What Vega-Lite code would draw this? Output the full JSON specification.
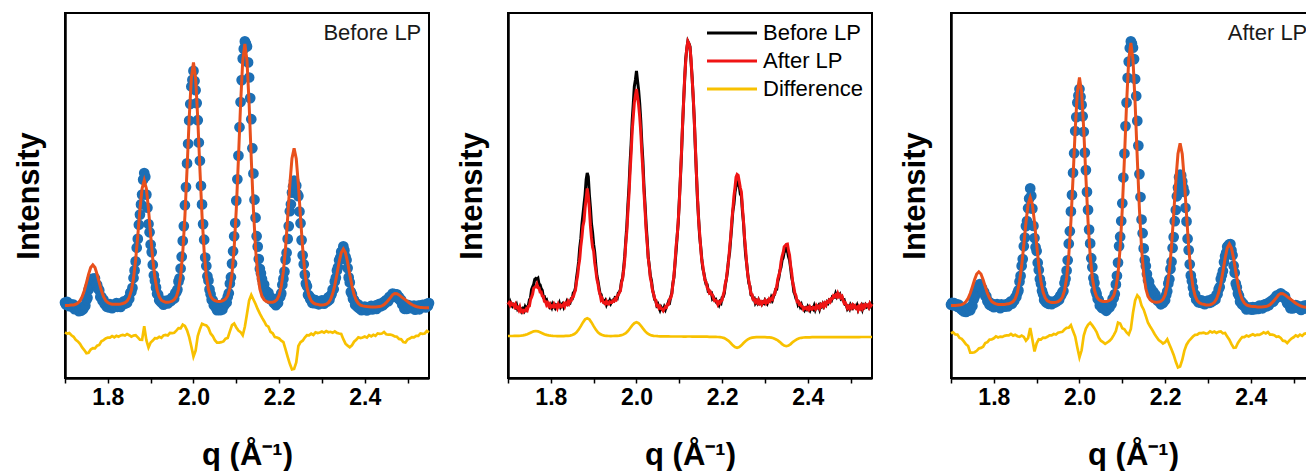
{
  "$schema": "https://vega.github.io/schema/vega-lite/v6.json",
  "background": "white",
  "padding": {"left": 12, "top": 12, "right": 0, "bottom": 0},
  "spacing": 19,
  "resolve": {"legend": {"color": "independent"}},
  "config": {
    "font": "Liberation Sans",
    "view": {"stroke": "#000000", "strokeWidth": 2},
    "axis": {"grid": false, "domainColor": "#000000", "domainWidth": 2.5, "tickColor": "#000000", "labelColor": "#000000", "titleColor": "#000000", "labelFont": "Liberation Sans", "titleFont": "Liberation Sans", "labelFontWeight": "bold", "titleFontWeight": "bold", "labelFontSize": 23, "titleFontSize": 31},
    "axisX": {"tickSize": 5, "tickWidth": 1.5, "labelPadding": 3, "titlePadding": 31, "labelFlush": false},
    "axisY": {"ticks": false, "labels": false, "titlePadding": 20}
  },
  "datasets": {
    "notes": [{"q": 2.532, "v": 338, "before": "Before LP", "after": "After LP"}],
    "obs": [
{"q":1.7,"b":75.4,"a":73.4},{"q":1.7025,"b":73.3,"a":75.1},{"q":1.705,"b":76.2,"a":72.7},{"q":1.7075,"b":73.3,"a":74.8},
{"q":1.71,"b":71.8,"a":73.3},{"q":1.7125,"b":73.9,"a":73.6},{"q":1.715,"b":73.2,"a":71.3},{"q":1.7175,"b":71.1,"a":73.5},
{"q":1.72,"b":73.3,"a":70.3},{"q":1.7225,"b":68.9,"a":70.6},{"q":1.725,"b":70.2,"a":68.2},{"q":1.7275,"b":69.0,"a":71.0},
{"q":1.73,"b":69.3,"a":66.6},{"q":1.7325,"b":66.8,"a":67.5},{"q":1.735,"b":69.1,"a":66.0},{"q":1.7375,"b":67.3,"a":67.6},
{"q":1.74,"b":71.0,"a":67.2},{"q":1.7425,"b":68.8,"a":69.0},{"q":1.745,"b":71.4,"a":67.8},{"q":1.7475,"b":72.4,"a":71.6},
{"q":1.75,"b":78.0,"a":72.0},{"q":1.7525,"b":80.2,"a":78.3},{"q":1.755,"b":88.3,"a":80.9},{"q":1.7575,"b":91.1,"a":83.9},
{"q":1.76,"b":93.6,"a":89.8},{"q":1.7625,"b":98.6,"a":90.8},{"q":1.765,"b":99.5,"a":91.2},{"q":1.7675,"b":98.6,"a":93.9},
{"q":1.77,"b":99.7,"a":90.3},{"q":1.7725,"b":94.0,"a":90.0},{"q":1.775,"b":93.2,"a":85.9},{"q":1.7775,"b":89.4,"a":85.9},
{"q":1.78,"b":87.7,"a":82.1},{"q":1.7825,"b":81.1,"a":81.6},{"q":1.785,"b":81.3,"a":76.7},{"q":1.7875,"b":77.4,"a":76.4},
{"q":1.79,"b":78.2,"a":73.2},{"q":1.7925,"b":74.0,"a":74.9},{"q":1.795,"b":73.5,"a":72.1},{"q":1.7975,"b":71.3,"a":73.8},
{"q":1.8,"b":73.3,"a":70.8},{"q":1.8025,"b":70.5,"a":72.0},{"q":1.805,"b":73.9,"a":71.3},{"q":1.8075,"b":71.7,"a":73.8},
{"q":1.81,"b":69.9,"a":71.4},{"q":1.8125,"b":72.9,"a":72.3},{"q":1.815,"b":72.0,"a":69.9},{"q":1.8175,"b":71.8,"a":73.7},
{"q":1.82,"b":74.9,"a":71.6},{"q":1.8225,"b":71.2,"a":72.8},{"q":1.825,"b":73.3,"a":71.3},{"q":1.8275,"b":74.4,"a":72.2},
{"q":1.83,"b":71.1,"a":74.0},{"q":1.8325,"b":74.2,"a":71.6},{"q":1.835,"b":73.9,"a":74.6},{"q":1.8375,"b":76.7,"a":73.7},
{"q":1.84,"b":74.3,"a":76.6},{"q":1.8425,"b":76.2,"a":74.4},{"q":1.845,"b":75.3,"a":77.1},{"q":1.8475,"b":79.3,"a":77.3},
{"q":1.85,"b":79.3,"a":80.8},{"q":1.8525,"b":85.2,"a":81.1},{"q":1.855,"b":86.2,"a":85.0},{"q":1.8575,"b":90.1,"a":87.6},
{"q":1.86,"b":100.0,"a":96.4},{"q":1.8625,"b":107.6,"a":102.1},{"q":1.865,"b":116.6,"a":112.1},{"q":1.8675,"b":130.3,"a":118.9},
{"q":1.87,"b":139.1,"a":131.7},{"q":1.8725,"b":153.3,"a":140.4},{"q":1.875,"b":163.4,"a":151.9},{"q":1.8775,"b":173.6,"a":156.9},
{"q":1.88,"b":183.4,"a":169.8},{"q":1.8825,"b":198.4,"a":179.5},{"q":1.885,"b":205.0,"a":189.6},{"q":1.8875,"b":201.3,"a":182.3},
{"q":1.89,"b":183.4,"a":169.4},{"q":1.8925,"b":170.3,"a":152.1},{"q":1.895,"b":154.0,"a":140.0},{"q":1.8975,"b":145.7,"a":130.7},
{"q":1.9,"b":133.5,"a":127.0},{"q":1.9025,"b":125.9,"a":115.3},{"q":1.905,"b":113.3,"a":108.0},{"q":1.9075,"b":102.7,"a":98.9},
{"q":1.91,"b":97.3,"a":94.4},{"q":1.9125,"b":90.6,"a":87.3},{"q":1.915,"b":84.2,"a":83.7},{"q":1.9175,"b":83.4,"a":78.1},
{"q":1.92,"b":77.8,"a":79.4},{"q":1.9225,"b":77.8,"a":75.6},{"q":1.925,"b":75.6,"a":75.5},{"q":1.9275,"b":77.4,"a":74.2},
{"q":1.93,"b":73.4,"a":76.6},{"q":1.9325,"b":76.0,"a":74.4},{"q":1.935,"b":75.2,"a":73.9},{"q":1.9375,"b":77.5,"a":76.2},
{"q":1.94,"b":74.6,"a":75.6},{"q":1.9425,"b":76.9,"a":75.5},{"q":1.945,"b":77.9,"a":77.2},{"q":1.9475,"b":77.1,"a":76.9},
{"q":1.95,"b":80.4,"a":79.0},{"q":1.9525,"b":80.1,"a":78.2},{"q":1.955,"b":79.5,"a":82.1},{"q":1.9575,"b":84.9,"a":82.9},
{"q":1.96,"b":85.7,"a":85.6},{"q":1.9625,"b":88.5,"a":87.0},{"q":1.965,"b":96.6,"a":95.0},{"q":1.9675,"b":99.7,"a":99.2},
{"q":1.97,"b":109.5,"a":107.5},{"q":1.9725,"b":121.3,"a":117.7},{"q":1.975,"b":137.1,"a":134.3},{"q":1.9775,"b":151.9,"a":146.8},
{"q":1.98,"b":172.8,"a":166.6},{"q":1.9825,"b":190.9,"a":183.1},{"q":1.985,"b":214.6,"a":205.2},{"q":1.9875,"b":234.2,"a":224.8},
{"q":1.99,"b":257.5,"a":247.0},{"q":1.9925,"b":274.0,"a":260.9},{"q":1.995,"b":291.5,"a":275.4},{"q":1.9975,"b":298.1,"a":282.4},
{"q":2.0,"b":307.1,"a":289.0},{"q":2.0025,"b":297.0,"a":281.3},{"q":2.005,"b":287.8,"a":273.1},{"q":2.0075,"b":274.9,"a":261.7},
{"q":2.01,"b":257.8,"a":246.2},{"q":2.0125,"b":235.5,"a":225.4},{"q":2.015,"b":217.2,"a":207.9},{"q":2.0175,"b":192.2,"a":186.1},
{"q":2.02,"b":173.6,"a":168.1},{"q":2.0225,"b":153.9,"a":148.4},{"q":2.025,"b":138.3,"a":134.6},{"q":2.0275,"b":120.5,"a":119.8},
{"q":2.03,"b":112.0,"a":110.9},{"q":2.0325,"b":101.8,"a":100.0},{"q":2.035,"b":97.5,"a":95.1},{"q":2.0375,"b":88.6,"a":87.3},
{"q":2.04,"b":83.8,"a":84.1},{"q":2.0425,"b":78.4,"a":79.2},{"q":2.045,"b":77.6,"a":77.9},{"q":2.0475,"b":72.7,"a":72.5},
{"q":2.05,"b":74.0,"a":72.8},{"q":2.0525,"b":70.6,"a":70.0},{"q":2.055,"b":67.8,"a":71.4},{"q":2.0575,"b":70.8,"a":69.3},
{"q":2.06,"b":68.9,"a":69.1},{"q":2.0625,"b":67.8,"a":67.2},{"q":2.065,"b":71.0,"a":69.1},{"q":2.0675,"b":68.6,"a":71.2},
{"q":2.07,"b":72.0,"a":70.6},{"q":2.0725,"b":73.0,"a":73.8},{"q":2.075,"b":76.4,"a":73.8},{"q":2.0775,"b":75.5,"a":79.2},
{"q":2.08,"b":81.2,"a":80.0},{"q":2.0825,"b":84.8,"a":83.9},{"q":2.085,"b":94.5,"a":93.6},{"q":2.0875,"b":100.8,"a":102.2},
{"q":2.09,"b":114.4,"a":115.4},{"q":2.0925,"b":126.8,"a":131.9},{"q":2.095,"b":141.7,"a":141.3},{"q":2.0975,"b":155.0,"a":157.0},
{"q":2.1,"b":177.4,"a":174.7},{"q":2.1025,"b":198.7,"a":200.5},{"q":2.105,"b":222.4,"a":224.5},{"q":2.1075,"b":250.8,"a":251.9},
{"q":2.11,"b":276.0,"a":275.4},{"q":2.1125,"b":297.9,"a":300.1},{"q":2.115,"b":319.4,"a":316.4},{"q":2.1175,"b":329.1,"a":330.0},
{"q":2.12,"b":336.6,"a":336.6},{"q":2.1225,"b":334.4,"a":334.4},{"q":2.125,"b":331.5,"a":330.3},{"q":2.1275,"b":315.6,"a":318.9},
{"q":2.13,"b":300.5,"a":299.0},{"q":2.1325,"b":279.9,"a":282.0},{"q":2.135,"b":258.8,"a":257.1},{"q":2.1375,"b":229.7,"a":232.4},
{"q":2.14,"b":204.5,"a":203.9},{"q":2.1425,"b":178.3,"a":181.0},{"q":2.145,"b":160.3,"a":158.5},{"q":2.1475,"b":141.8,"a":144.8},
{"q":2.15,"b":131.4,"a":129.6},{"q":2.1525,"b":119.0,"a":117.9},{"q":2.155,"b":109.2,"a":112.0},{"q":2.1575,"b":104.8,"a":104.0},
{"q":2.16,"b":98.9,"a":97.7},{"q":2.1625,"b":93.9,"a":96.2},{"q":2.165,"b":93.4,"a":90.6},{"q":2.1675,"b":86.8,"a":88.9},
{"q":2.17,"b":87.0,"a":85.2},{"q":2.1725,"b":84.9,"a":86.2},{"q":2.175,"b":85.2,"a":83.6},{"q":2.1775,"b":79.4,"a":83.2},
{"q":2.18,"b":80.6,"a":79.4},{"q":2.1825,"b":78.1,"a":77.2},{"q":2.185,"b":78.6,"a":77.7},{"q":2.1875,"b":75.1,"a":76.5},
{"q":2.19,"b":74.7,"a":73.7},{"q":2.1925,"b":72.8,"a":76.0},{"q":2.195,"b":76.2,"a":75.0},{"q":2.1975,"b":75.0,"a":77.2},
{"q":2.2,"b":80.4,"a":77.7},{"q":2.2025,"b":81.2,"a":83.0},{"q":2.205,"b":84.6,"a":86.8},{"q":2.2075,"b":93.3,"a":94.6},
{"q":2.21,"b":99.1,"a":98.8},{"q":2.2125,"b":106.4,"a":109.1},{"q":2.215,"b":118.4,"a":116.3},{"q":2.2175,"b":125.3,"a":130.0},
{"q":2.22,"b":139.1,"a":140.9},{"q":2.2225,"b":151.9,"a":156.8},{"q":2.225,"b":166.8,"a":168.0},{"q":2.2275,"b":173.7,"a":181.7},
{"q":2.23,"b":185.4,"a":190.4},{"q":2.2325,"b":191.4,"a":200.8},{"q":2.235,"b":197.5,"a":203.5},{"q":2.2375,"b":192.9,"a":202.6},
{"q":2.24,"b":192.5,"a":196.6},{"q":2.2425,"b":183.9,"a":190.2},{"q":2.245,"b":181.9,"a":186.0},{"q":2.2475,"b":166.5,"a":170.2},
{"q":2.25,"b":154.8,"a":156.6},{"q":2.2525,"b":137.9,"a":139.3},{"q":2.255,"b":122.7,"a":127.9},{"q":2.2575,"b":113.8,"a":113.7},
{"q":2.26,"b":103.4,"a":102.6},{"q":2.2625,"b":94.5,"a":97.0},{"q":2.265,"b":91.8,"a":90.4},{"q":2.2675,"b":83.1,"a":84.0},
{"q":2.27,"b":82.3,"a":83.4},{"q":2.2725,"b":78.9,"a":78.6},{"q":2.275,"b":79.6,"a":78.9},{"q":2.2775,"b":75.0,"a":75.8},
{"q":2.28,"b":77.0,"a":77.2},{"q":2.2825,"b":74.9,"a":75.3},{"q":2.285,"b":77.8,"a":77.7},{"q":2.2875,"b":74.7,"a":74.8},
{"q":2.29,"b":75.7,"a":76.1},{"q":2.2925,"b":73.7,"a":73.8},{"q":2.295,"b":75.8,"a":76.0},{"q":2.2975,"b":74.7,"a":75.6},
{"q":2.3,"b":77.6,"a":77.5},{"q":2.3025,"b":75.7,"a":75.0},{"q":2.305,"b":74.3,"a":76.9},{"q":2.3075,"b":77.6,"a":75.9},
{"q":2.31,"b":77.1,"a":78.9},{"q":2.3125,"b":76.5,"a":77.4},{"q":2.315,"b":80.6,"a":79.4},{"q":2.3175,"b":78.2,"a":78.6},
{"q":2.32,"b":82.0,"a":83.2},{"q":2.3225,"b":83.7,"a":83.8},{"q":2.325,"b":88.5,"a":88.8},{"q":2.3275,"b":88.8,"a":91.0},
{"q":2.33,"b":96.5,"a":98.9},{"q":2.3325,"b":100.3,"a":102.8},{"q":2.335,"b":107.5,"a":106.9},{"q":2.3375,"b":110.7,"a":115.9},
{"q":2.34,"b":117.8,"a":121.7},{"q":2.3425,"b":120.3,"a":125.3},{"q":2.345,"b":126.1,"a":131.3},{"q":2.3475,"b":126.8,"a":132.3},
{"q":2.35,"b":131.6,"a":133.6},{"q":2.3525,"b":127.6,"a":133.9},{"q":2.355,"b":121.3,"a":127.6},{"q":2.3575,"b":118.0,"a":122.8},
{"q":2.36,"b":109.9,"a":112.3},{"q":2.3625,"b":100.6,"a":105.2},{"q":2.365,"b":95.6,"a":94.5},{"q":2.3675,"b":86.1,"a":90.8},
{"q":2.37,"b":83.7,"a":84.5},{"q":2.3725,"b":79.3,"a":82.3},{"q":2.375,"b":77.9,"a":76.4},{"q":2.3775,"b":73.2,"a":76.7},
{"q":2.38,"b":74.7,"a":73.6},{"q":2.3825,"b":71.4,"a":74.3},{"q":2.385,"b":73.4,"a":71.7},{"q":2.3875,"b":69.5,"a":71.5},
{"q":2.39,"b":70.0,"a":68.6},{"q":2.3925,"b":67.8,"a":69.9},{"q":2.395,"b":69.9,"a":70.3},{"q":2.3975,"b":68.6,"a":69.1},
{"q":2.4,"b":71.3,"a":70.4},{"q":2.4025,"b":69.2,"a":68.4},{"q":2.405,"b":67.5,"a":71.0},{"q":2.4075,"b":70.5,"a":69.1},
{"q":2.41,"b":70.6,"a":68.8},{"q":2.4125,"b":69.1,"a":70.8},{"q":2.415,"b":72.2,"a":70.2},{"q":2.4175,"b":68.5,"a":69.0},
{"q":2.42,"b":71.5,"a":72.3},{"q":2.4225,"b":70.8,"a":70.3},{"q":2.425,"b":72.4,"a":71.5},{"q":2.4275,"b":69.0,"a":69.7},
{"q":2.43,"b":73.1,"a":73.2},{"q":2.4325,"b":71.6,"a":71.9},{"q":2.435,"b":74.2,"a":74.0},{"q":2.4375,"b":71.7,"a":71.7},
{"q":2.44,"b":74.3,"a":74.6},{"q":2.4425,"b":72.9,"a":72.9},{"q":2.445,"b":76.1,"a":76.2},{"q":2.4475,"b":74.9,"a":75.7},
{"q":2.45,"b":77.9,"a":77.7},{"q":2.4525,"b":77.1,"a":76.3},{"q":2.455,"b":76.9,"a":79.4},{"q":2.4575,"b":81.2,"a":79.3},
{"q":2.46,"b":80.7,"a":82.3},{"q":2.4625,"b":80.7,"a":81.4},{"q":2.465,"b":84.4,"a":82.9},{"q":2.4675,"b":81.5,"a":81.5},
{"q":2.47,"b":84.0,"a":84.6},{"q":2.4725,"b":82.4,"a":81.7},{"q":2.475,"b":83.7,"a":82.9},{"q":2.4775,"b":79.7,"a":80.5},
{"q":2.48,"b":81.0,"a":81.6},{"q":2.4825,"b":77.7,"a":77.9},{"q":2.485,"b":78.2,"a":74.8},{"q":2.4875,"b":73.5,"a":75.4},
{"q":2.49,"b":72.9,"a":73.0},{"q":2.4925,"b":69.2,"a":69.9},{"q":2.495,"b":70.9,"a":71.4},{"q":2.4975,"b":69.0,"a":69.6},
{"q":2.5,"b":73.1,"a":72.0},{"q":2.5025,"b":71.3,"a":70.3},{"q":2.505,"b":69.9,"a":72.8},{"q":2.5075,"b":72.2,"a":70.8},
{"q":2.51,"b":70.8,"a":72.1},{"q":2.5125,"b":70.0,"a":69.8},{"q":2.515,"b":72.5,"a":70.7},{"q":2.5175,"b":68.3,"a":68.1},
{"q":2.52,"b":71.0,"a":71.4},{"q":2.5225,"b":69.9,"a":69.6},{"q":2.525,"b":72.3,"a":72.3},{"q":2.5275,"b":68.7,"a":69.6},
{"q":2.53,"b":72.5,"a":72.2},{"q":2.5325,"b":71.0,"a":70.8},{"q":2.535,"b":73.2,"a":73.3},{"q":2.5375,"b":71.3,"a":72.2},
{"q":2.54,"b":72.4,"a":73.0},{"q":2.5425,"b":70.6,"a":70.8},{"q":2.545,"b":74.1,"a":74.4},{"q":2.5475,"b":72.0,"a":72.4},
{"q":2.55,"b":74.9,"a":73.9}
    ],
    "fit": [
{"q":1.7,"fb":72.6,"fa":72.5,"db":45.5,"da":44.7,"d2":42.0},{"q":1.705,"fb":72.6,"fa":72.5,"db":44.4,"da":45.7,"d2":42.0},
{"q":1.71,"fb":72.7,"fa":72.6,"db":44.9,"da":43.5,"d2":42.0},{"q":1.715,"fb":72.9,"fa":72.8,"db":42.7,"da":43.4,"d2":42.1},
{"q":1.72,"fb":73.1,"fa":72.9,"db":41.2,"da":40.1,"d2":42.1},{"q":1.725,"fb":73.7,"fa":73.4,"db":38.2,"da":39.2,"d2":42.2},
{"q":1.73,"fb":74.9,"fa":74.4,"db":36.6,"da":36.6,"d2":42.3},{"q":1.735,"fb":77.2,"fa":76.4,"db":34.1,"da":33.6,"d2":42.6},
{"q":1.74,"fb":81.2,"fa":79.7,"db":30.5,"da":32.0,"d2":43.1},{"q":1.745,"fb":87.3,"fa":84.7,"db":28.0,"da":25.4,"d2":43.8},
{"q":1.75,"fb":95.2,"fa":91.3,"db":24.8,"da":25.3,"d2":44.8},{"q":1.755,"fb":103.7,"fa":98.3,"db":25.3,"da":25.8,"d2":45.8},
{"q":1.76,"fb":110.5,"fa":104.0,"db":28.4,"da":27.2,"d2":46.7},{"q":1.765,"fb":113.2,"fa":106.2,"db":29.8,"da":29.5,"d2":47.0},
{"q":1.77,"fb":110.5,"fa":104.0,"db":29.6,"da":30.1,"d2":46.7},{"q":1.775,"fb":103.7,"fa":98.3,"db":32.3,"da":31.3,"d2":45.8},
{"q":1.78,"fb":95.3,"fa":91.4,"db":33.1,"da":34.9,"d2":44.8},{"q":1.785,"fb":87.4,"fa":84.8,"db":36.7,"da":35.9,"d2":43.8},
{"q":1.79,"fb":81.4,"fa":79.9,"db":37.9,"da":38.4,"d2":43.1},{"q":1.795,"fb":77.4,"fa":76.6,"db":39.5,"da":38.5,"d2":42.6},
{"q":1.8,"fb":75.5,"fa":75.0,"db":40.5,"da":39.7,"d2":42.3},{"q":1.805,"fb":74.3,"fa":74.1,"db":40.4,"da":41.7,"d2":42.1},
{"q":1.81,"fb":73.8,"fa":73.6,"db":41.9,"da":40.5,"d2":42.0},{"q":1.815,"fb":73.7,"fa":73.5,"db":40.7,"da":41.4,"d2":41.9},
{"q":1.82,"fb":73.7,"fa":73.5,"db":42.2,"da":41.1,"d2":41.9},{"q":1.825,"fb":73.8,"fa":73.6,"db":41.2,"da":42.2,"d2":41.9},
{"q":1.83,"fb":74.1,"fa":73.9,"db":42.6,"da":42.6,"d2":41.9},{"q":1.835,"fb":74.5,"fa":74.2,"db":43.1,"da":42.6,"d2":42.1},
{"q":1.84,"fb":75.4,"fa":75.0,"db":42.5,"da":44.0,"d2":42.2},{"q":1.845,"fb":77.0,"fa":76.4,"db":44.0,"da":42.4,"d2":42.4},
{"q":1.85,"fb":80.6,"fa":79.5,"db":42.8,"da":43.3,"d2":43.0},{"q":1.855,"fb":87.6,"fa":85.5,"db":41.3,"da":41.8,"d2":44.0},
{"q":1.86,"fb":99.9,"fa":96.2,"db":42.4,"da":41.2,"d2":45.7},{"q":1.865,"fb":118.5,"fa":112.2,"db":42.8,"da":42.5,"d2":48.4},
{"q":1.87,"fb":142.6,"fa":133.1,"db":40.6,"da":41.1,"d2":51.9},{"q":1.875,"fb":168.6,"fa":155.5,"db":38.3,"da":37.3,"d2":55.6},
{"q":1.88,"fb":189.5,"fa":173.6,"db":38.1,"da":39.9,"d2":58.6},{"q":1.885,"fb":197.6,"fa":180.6,"db":51.7,"da":49.9,"d2":59.8},
{"q":1.89,"fb":189.5,"fa":173.6,"db":37.9,"da":38.4,"d2":58.6},{"q":1.895,"fb":168.7,"fa":155.6,"db":30.5,"da":26.5,"d2":55.6},
{"q":1.9,"fb":142.8,"fa":133.3,"db":35.5,"da":34.7,"d2":51.9},{"q":1.905,"fb":118.7,"fa":112.4,"db":37.4,"da":38.7,"d2":48.4},
{"q":1.91,"fb":100.2,"fa":96.5,"db":39.9,"da":38.5,"d2":45.7},{"q":1.915,"fb":88.1,"fa":86.0,"db":39.7,"da":40.4,"d2":44.0},
{"q":1.92,"fb":81.3,"fa":80.2,"db":41.2,"da":40.1,"d2":43.0},{"q":1.925,"fb":77.8,"fa":77.2,"db":40.2,"da":41.2,"d2":42.4},
{"q":1.93,"fb":76.5,"fa":76.1,"db":42.6,"da":42.6,"d2":42.2},{"q":1.935,"fb":75.8,"fa":75.5,"db":43.1,"da":42.6,"d2":42.0},
{"q":1.94,"fb":75.7,"fa":75.4,"db":42.5,"da":44.0,"d2":41.9},{"q":1.945,"fb":76.1,"fa":75.7,"db":45.0,"da":43.4,"d2":42.0},
{"q":1.95,"fb":76.8,"fa":76.4,"db":44.8,"da":45.3,"d2":42.1},{"q":1.955,"fb":78.4,"fa":77.9,"db":45.3,"da":45.8,"d2":42.2},
{"q":1.96,"fb":81.4,"fa":80.7,"db":47.4,"da":46.2,"d2":42.4},{"q":1.965,"fb":88.4,"fa":87.3,"db":49.8,"da":48.5,"d2":42.8},
{"q":1.97,"fb":102.0,"fa":100.1,"db":49.6,"da":50.1,"d2":43.6},{"q":1.975,"fb":125.7,"fa":122.3,"db":53.3,"da":50.3,"d2":44.9},
{"q":1.98,"fb":161.9,"fa":156.3,"db":52.1,"da":52.9,"d2":47.0},{"q":1.985,"fb":208.8,"fa":200.4,"db":47.7,"da":46.9,"d2":49.7},
{"q":1.99,"fb":259.4,"fa":247.9,"db":40.9,"da":41.4,"d2":52.6},{"q":1.995,"fb":299.7,"fa":285.7,"db":31.5,"da":30.5,"d2":54.8},
{"q":2.0,"fb":315.5,"fa":300.5,"db":21.5,"da":20.7,"d2":55.7},{"q":2.005,"fb":299.7,"fa":285.7,"db":27.4,"da":27.7,"d2":54.8},
{"q":2.01,"fb":259.5,"fa":248.0,"db":41.9,"da":42.5,"d2":52.5},{"q":2.015,"fb":209.0,"fa":200.6,"db":48.7,"da":49.4,"d2":49.6},
{"q":2.02,"fb":162.1,"fa":156.6,"db":54.2,"da":53.1,"d2":46.9},{"q":2.025,"fb":125.9,"fa":122.6,"db":53.2,"da":55.2,"d2":44.8},
{"q":2.03,"fb":102.1,"fa":100.3,"db":52.6,"da":52.6,"d2":43.4},{"q":2.035,"fb":88.7,"fa":87.7,"db":50.1,"da":49.6,"d2":42.6},
{"q":2.04,"fb":81.7,"fa":81.2,"db":44.5,"da":46.0,"d2":42.2},{"q":2.045,"fb":78.8,"fa":78.5,"db":42.0,"da":40.4,"d2":42.0},
{"q":2.05,"fb":77.4,"fa":77.2,"db":37.8,"da":37.3,"d2":41.8},{"q":2.055,"fb":76.7,"fa":76.5,"db":35.3,"da":35.8,"d2":41.7},
{"q":2.06,"fb":76.6,"fa":76.4,"db":35.4,"da":34.2,"d2":41.7},{"q":2.065,"fb":76.8,"fa":76.8,"db":35.8,"da":35.5,"d2":41.6},
{"q":2.07,"fb":77.5,"fa":77.5,"db":36.6,"da":37.1,"d2":41.6},{"q":2.075,"fb":79.0,"fa":79.1,"db":39.3,"da":39.3,"d2":41.6},
{"q":2.08,"fb":82.3,"fa":82.4,"db":40.1,"da":42.9,"d2":41.5},{"q":2.085,"fb":89.7,"fa":89.8,"db":46.7,"da":46.9,"d2":41.5},
{"q":2.09,"fb":104.3,"fa":104.4,"db":52.9,"da":55.4,"d2":41.5},{"q":2.095,"fb":129.9,"fa":130.0,"db":54.5,"da":54.5,"d2":41.5},
{"q":2.1,"fb":168.8,"fa":169.1,"db":50.5,"da":49.7,"d2":41.5},{"q":2.105,"fb":219.3,"fa":219.8,"db":47.4,"da":48.7,"d2":41.5},
{"q":2.11,"fb":273.7,"fa":274.5,"db":45.9,"da":45.5,"d2":41.4},{"q":2.115,"fb":317.2,"fa":318.1,"db":42.7,"da":43.4,"d2":41.4},
{"q":2.12,"fb":334.1,"fa":335.1,"db":51.2,"da":49.1,"d2":41.5},{"q":2.125,"fb":317.1,"fa":318.1,"db":64.2,"da":65.2,"d2":41.5},
{"q":2.13,"fb":273.6,"fa":274.4,"db":77.6,"da":77.6,"d2":41.4},{"q":2.135,"fb":219.0,"fa":219.6,"db":83.1,"da":82.6,"d2":41.4},
{"q":2.14,"fb":168.4,"fa":168.8,"db":78.5,"da":80.0,"d2":41.4},{"q":2.145,"fb":129.5,"fa":129.8,"db":74.0,"da":72.4,"d2":41.3},
{"q":2.15,"fb":103.8,"fa":104.0,"db":68.8,"da":68.3,"d2":41.3},{"q":2.155,"fb":89.1,"fa":89.2,"db":64.3,"da":61.8,"d2":41.3},
{"q":2.16,"fb":81.6,"fa":81.7,"db":60.4,"da":55.2,"d2":41.3},{"q":2.165,"fb":78.2,"fa":78.3,"db":56.8,"da":51.5,"d2":41.3},
{"q":2.17,"fb":76.5,"fa":76.6,"db":52.6,"da":48.1,"d2":41.2},{"q":2.175,"fb":75.8,"fa":75.9,"db":51.3,"da":44.3,"d2":41.2},
{"q":2.18,"fb":75.7,"fa":75.8,"db":46.1,"da":40.9,"d2":41.2},{"q":2.185,"fb":75.8,"fa":75.9,"db":44.7,"da":37.9,"d2":41.1},
{"q":2.19,"fb":76.6,"fa":76.7,"db":40.9,"da":36.4,"d2":41.0},{"q":2.195,"fb":78.4,"fa":78.7,"db":40.5,"da":34.5,"d2":40.8},
{"q":2.2,"fb":82.8,"fa":83.1,"db":39.5,"da":35.7,"d2":40.5},{"q":2.205,"fb":91.5,"fa":92.1,"db":37.4,"da":38.7,"d2":39.9},
{"q":2.21,"fb":106.8,"fa":107.9,"db":35.9,"da":33.5,"d2":38.6},{"q":2.215,"fb":130.2,"fa":132.0,"db":28.7,"da":28.4,"d2":37.1},
{"q":2.22,"fb":160.6,"fa":163.4,"db":21.2,"da":23.1,"d2":35.0},{"q":2.225,"fb":193.4,"fa":197.2,"db":14.2,"da":16.2,"d2":32.7},
{"q":2.23,"fb":219.5,"fa":224.2,"db":8.6,"da":10.6,"d2":30.9},{"q":2.235,"fb":229.7,"fa":234.7,"db":9.1,"da":11.6,"d2":30.2},
{"q":2.24,"fb":219.4,"fa":224.1,"db":15.5,"da":18.0,"d2":30.9},{"q":2.245,"fb":193.1,"fa":196.9,"db":32.0,"da":27.4,"d2":32.7},
{"q":2.25,"fb":160.2,"fa":163.0,"db":35.8,"da":33.3,"d2":35.0},{"q":2.255,"fb":129.6,"fa":131.4,"db":37.3,"da":36.8,"d2":37.0},
{"q":2.26,"fb":106.1,"fa":107.2,"db":40.4,"da":39.2,"d2":38.6},{"q":2.265,"fb":90.6,"fa":91.2,"db":42.8,"da":41.5,"d2":39.8},
{"q":2.27,"fb":81.8,"fa":82.1,"db":42.6,"da":43.1,"d2":40.4},{"q":2.275,"fb":77.2,"fa":77.4,"db":44.3,"da":43.3,"d2":40.7},
{"q":2.28,"fb":75.1,"fa":75.2,"db":43.1,"da":44.9,"d2":40.8},{"q":2.285,"fb":74.0,"fa":74.1,"db":45.7,"da":44.9,"d2":40.9},
{"q":2.29,"fb":73.6,"fa":73.7,"db":44.9,"da":45.4,"d2":40.9},{"q":2.295,"fb":73.0,"fa":73.1,"db":45.5,"da":44.5,"d2":40.9},
{"q":2.3,"fb":73.0,"fa":73.1,"db":46.5,"da":44.7,"d2":40.8},{"q":2.305,"fb":73.2,"fa":73.3,"db":45.4,"da":46.7,"d2":40.7},
{"q":2.31,"fb":73.8,"fa":74.0,"db":46.9,"da":45.5,"d2":40.6},{"q":2.315,"fb":75.4,"fa":75.7,"db":45.7,"da":46.4,"d2":40.3},
{"q":2.32,"fb":78.5,"fa":79.1,"db":46.2,"da":45.1,"d2":39.8},{"q":2.325,"fb":84.1,"fa":85.2,"db":45.2,"da":46.2,"d2":38.8},
{"q":2.33,"fb":92.6,"fa":94.4,"db":46.6,"da":46.6,"d2":37.6},{"q":2.335,"fb":103.7,"fa":106.5,"db":45.1,"da":44.6,"d2":35.9},
{"q":2.34,"fb":115.7,"fa":119.5,"db":44.5,"da":45.0,"d2":33.9},{"q":2.345,"fb":125.3,"fa":130.0,"db":44.0,"da":41.4,"d2":32.4},
{"q":2.35,"fb":129.0,"fa":134.0,"db":38.8,"da":38.3,"d2":31.8},{"q":2.355,"fb":125.2,"fa":129.9,"db":34.3,"da":33.8,"d2":32.4},
{"q":2.36,"fb":115.6,"fa":119.4,"db":32.4,"da":30.2,"d2":33.9},{"q":2.365,"fb":103.4,"fa":106.2,"db":30.8,"da":30.5,"d2":35.9},
{"q":2.37,"fb":92.2,"fa":94.0,"db":32.6,"da":35.1,"d2":37.5},{"q":2.375,"fb":83.5,"fa":84.6,"db":36.3,"da":38.3,"d2":38.8},
{"q":2.38,"fb":77.8,"fa":78.4,"db":38.1,"da":40.9,"d2":39.7},{"q":2.385,"fb":74.6,"fa":74.9,"db":40.7,"da":40.9,"d2":40.2},
{"q":2.39,"fb":72.9,"fa":73.1,"db":39.9,"da":42.4,"d2":40.5},{"q":2.395,"fb":72.1,"fa":72.2,"db":40.5,"da":41.5,"d2":40.6},
{"q":2.4,"fb":71.7,"fa":71.8,"db":41.5,"da":42.7,"d2":40.7},{"q":2.405,"fb":71.4,"fa":71.5,"db":40.4,"da":43.7,"d2":40.7},
{"q":2.41,"fb":71.3,"fa":71.4,"db":42.9,"da":42.5,"d2":40.8},{"q":2.415,"fb":71.0,"fa":71.0,"db":41.7,"da":43.4,"d2":40.8},
{"q":2.42,"fb":71.0,"fa":71.0,"db":43.2,"da":43.1,"d2":40.8},{"q":2.425,"fb":71.0,"fa":71.0,"db":42.2,"da":44.2,"d2":40.8},
{"q":2.43,"fb":71.2,"fa":71.2,"db":44.6,"da":45.6,"d2":40.8},{"q":2.435,"fb":71.4,"fa":71.4,"db":44.1,"da":44.6,"d2":40.8},
{"q":2.44,"fb":72.2,"fa":72.2,"db":44.5,"da":46.0,"d2":40.9},{"q":2.445,"fb":73.3,"fa":73.3,"db":46.0,"da":43.4,"d2":40.9},
{"q":2.45,"fb":75.3,"fa":75.3,"db":43.8,"da":43.3,"d2":40.9},{"q":2.455,"fb":77.8,"fa":77.8,"db":43.3,"da":42.8,"d2":40.9},
{"q":2.46,"fb":80.4,"fa":80.4,"db":43.4,"da":41.2,"d2":40.9},{"q":2.465,"fb":83.2,"fa":83.2,"db":42.8,"da":41.5,"d2":40.9},
{"q":2.47,"fb":84.5,"fa":84.5,"db":41.6,"da":40.1,"d2":40.9},{"q":2.475,"fb":84.3,"fa":84.3,"db":41.3,"da":37.3,"d2":40.9},
{"q":2.48,"fb":83.1,"fa":83.1,"db":39.1,"da":36.9,"d2":40.9},{"q":2.485,"fb":81.4,"fa":81.4,"db":38.7,"da":34.9,"d2":40.9},
{"q":2.49,"fb":79.8,"fa":79.8,"db":35.9,"da":37.4,"d2":40.9},{"q":2.495,"fb":78.1,"fa":78.1,"db":35.5,"da":39.5,"d2":40.9},
{"q":2.5,"fb":76.5,"fa":76.5,"db":38.5,"da":40.7,"d2":40.9},{"q":2.505,"fb":74.8,"fa":74.8,"db":39.4,"da":42.7,"d2":40.9},
{"q":2.51,"fb":73.5,"fa":73.5,"db":40.9,"da":41.5,"d2":40.9},{"q":2.515,"fb":72.3,"fa":72.3,"db":40.7,"da":43.4,"d2":40.9},
{"q":2.52,"fb":71.5,"fa":71.5,"db":42.2,"da":42.1,"d2":40.9},{"q":2.525,"fb":70.9,"fa":70.9,"db":42.2,"da":44.2,"d2":41.0},
{"q":2.53,"fb":70.6,"fa":70.6,"db":44.6,"da":44.6,"d2":41.0},{"q":2.535,"fb":70.4,"fa":70.4,"db":44.1,"da":43.6,"d2":41.0},
{"q":2.54,"fb":70.3,"fa":70.3,"db":44.5,"da":46.0,"d2":41.0},{"q":2.545,"fb":70.3,"fa":70.3,"db":47.0,"da":44.4,"d2":41.0},
{"q":2.55,"fb":70.3,"fa":70.3,"db":45.8,"da":45.3,"d2":41.0}
    ]
  },
  "hconcat": [
    {
      "width": 364,
      "height": 365,
      "encoding": {
        "x": {"field": "q", "type": "quantitative", "title": "q (Å⁻¹)", "scale": {"domain": [1.7, 2.55], "nice": false, "zero": false}, "axis": {"values": [1.7, 1.8, 1.9, 2.0, 2.1, 2.2, 2.3, 2.4, 2.5], "labelExpr": "round(datum.value * 10) % 2 == 0 ? format(datum.value, '.1f') : ''"}}
      },
      "layer": [
        {"data": {"name": "obs"}, "mark": {"type": "point", "shape": "circle", "filled": true, "size": 115, "opacity": 1, "color": "#1c6fb5"}, "encoding": {"y": {"field": "b", "type": "quantitative", "title": "Intensity", "scale": {"domain": [0, 365], "nice": false, "zero": false}}}},
        {"data": {"name": "fit"}, "mark": {"type": "line", "color": "#e8501c", "strokeWidth": 3}, "encoding": {"y": {"field": "fb", "type": "quantitative", "title": "Intensity"}}},
        {"data": {"name": "fit"}, "mark": {"type": "line", "color": "#f8c100", "strokeWidth": 2.7}, "encoding": {"y": {"field": "db", "type": "quantitative", "title": "Intensity"}}},
        {"data": {"name": "notes"}, "mark": {"type": "text", "align": "right", "baseline": "alphabetic", "fontSize": 22, "font": "Liberation Sans", "color": "#1a1a1a"}, "encoding": {"y": {"field": "v", "type": "quantitative", "title": "Intensity"}, "text": {"field": "before", "type": "nominal"}}}
      ]
    },
    {
      "width": 364,
      "height": 365,
      "encoding": {
        "x": {"field": "q", "type": "quantitative", "title": "q (Å⁻¹)", "scale": {"domain": [1.7, 2.55], "nice": false, "zero": false}, "axis": {"values": [1.7, 1.8, 1.9, 2.0, 2.1, 2.2, 2.3, 2.4, 2.5], "labelExpr": "round(datum.value * 10) % 2 == 0 ? format(datum.value, '.1f') : ''"}}
      },
      "layer": [
        {"data": {"name": "obs"}, "mark": {"type": "line", "strokeWidth": 3}, "encoding": {"y": {"field": "b", "type": "quantitative", "title": "Intensity", "scale": {"domain": [0, 365], "nice": false, "zero": false}}, "color": {"datum": "Before LP", "type": "nominal", "scale": {"domain": ["Before LP", "After LP", "Difference"], "range": ["#000000", "#f01414", "#f8c100"]}, "legend": {"title": null, "orient": "none", "legendX": 210, "legendY": 6, "padding": 0, "symbolType": "M-2,0H2", "symbolSize": 625, "symbolStrokeWidth": 3, "labelFontSize": 22, "labelFont": "Liberation Sans", "labelColor": "#000000", "labelOffset": 17, "rowPadding": 3}}}},
        {"data": {"name": "obs"}, "mark": {"type": "line", "strokeWidth": 3}, "encoding": {"y": {"field": "a", "type": "quantitative", "title": "Intensity"}, "color": {"datum": "After LP", "type": "nominal"}}},
        {"data": {"name": "fit"}, "mark": {"type": "line", "strokeWidth": 2.7}, "encoding": {"y": {"field": "d2", "type": "quantitative", "title": "Intensity"}, "color": {"datum": "Difference", "type": "nominal"}}}
      ]
    },
    {
      "width": 364,
      "height": 365,
      "encoding": {
        "x": {"field": "q", "type": "quantitative", "title": "q (Å⁻¹)", "scale": {"domain": [1.7, 2.55], "nice": false, "zero": false}, "axis": {"values": [1.7, 1.8, 1.9, 2.0, 2.1, 2.2, 2.3, 2.4, 2.5], "labelExpr": "round(datum.value * 10) % 2 == 0 ? format(datum.value, '.1f') : ''"}}
      },
      "layer": [
        {"data": {"name": "obs"}, "mark": {"type": "point", "shape": "circle", "filled": true, "size": 115, "opacity": 1, "color": "#1c6fb5"}, "encoding": {"y": {"field": "a", "type": "quantitative", "title": "Intensity", "scale": {"domain": [0, 365], "nice": false, "zero": false}}}},
        {"data": {"name": "fit"}, "mark": {"type": "line", "color": "#e8501c", "strokeWidth": 3}, "encoding": {"y": {"field": "fa", "type": "quantitative", "title": "Intensity"}}},
        {"data": {"name": "fit"}, "mark": {"type": "line", "color": "#f8c100", "strokeWidth": 2.7}, "encoding": {"y": {"field": "da", "type": "quantitative", "title": "Intensity"}}},
        {"data": {"name": "notes"}, "mark": {"type": "text", "align": "right", "baseline": "alphabetic", "fontSize": 22, "font": "Liberation Sans", "color": "#1a1a1a"}, "encoding": {"y": {"field": "v", "type": "quantitative", "title": "Intensity"}, "text": {"field": "after", "type": "nominal"}}}
      ]
    }
  ]
}
